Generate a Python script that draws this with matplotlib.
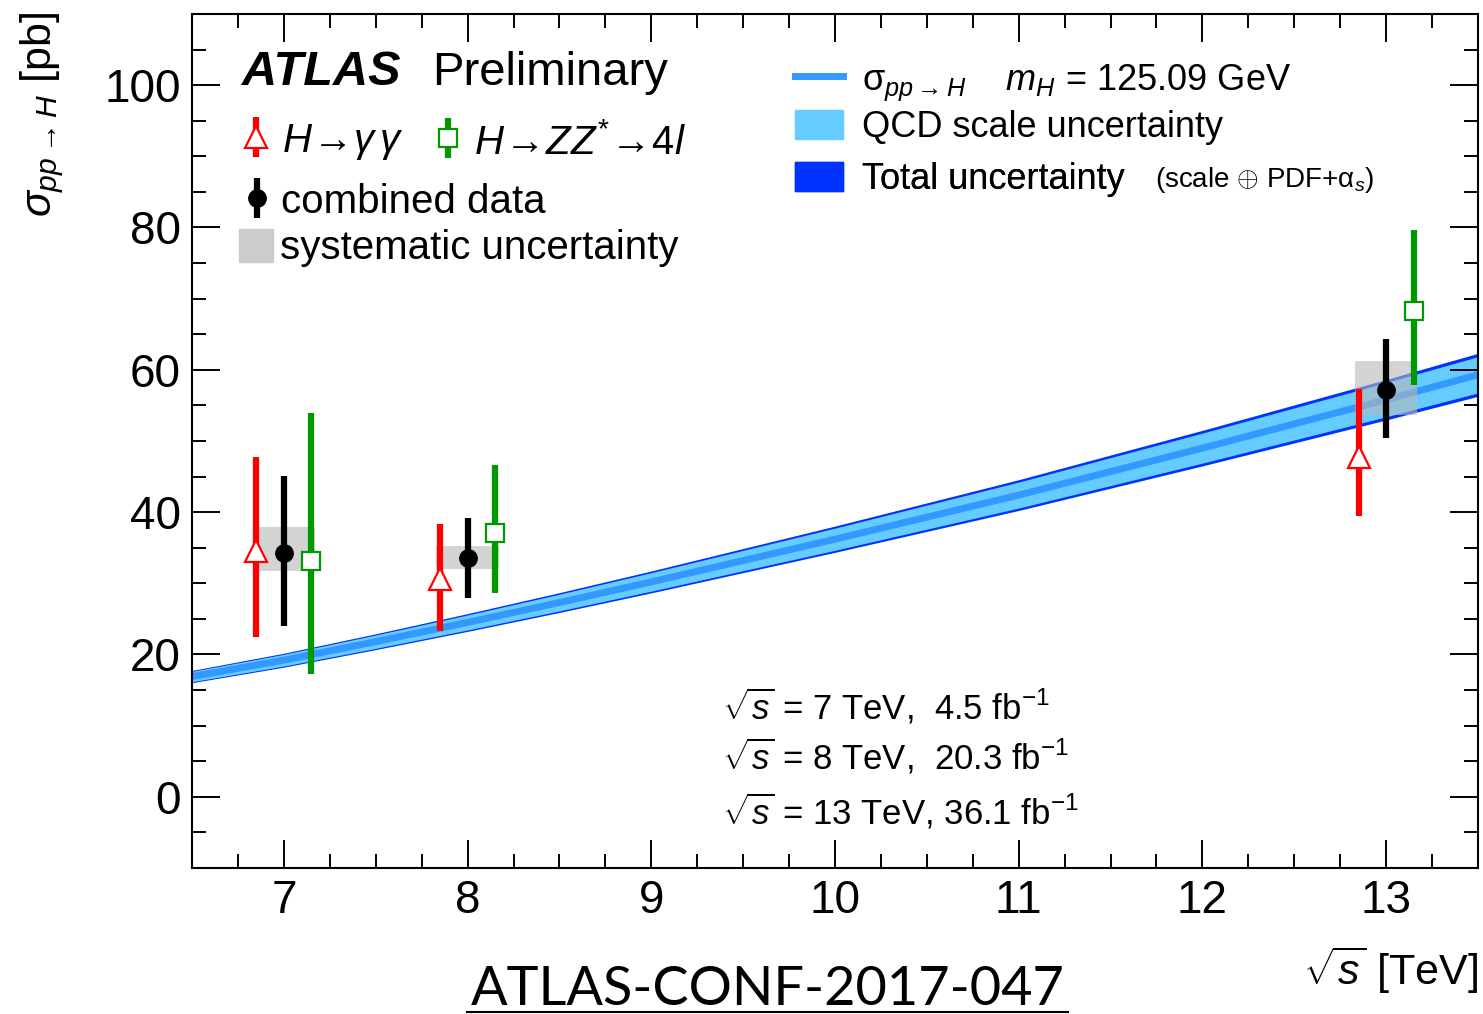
import matplotlib
matplotlib.use('Agg')
import matplotlib.pyplot as plt
from matplotlib.lines import Line2D
from matplotlib.patches import Patch
from matplotlib.ticker import MultipleLocator
import numpy as np

plt.rcParams['font.family'] = ['Liberation Sans', 'DejaVu Sans']
plt.rcParams['mathtext.fontset'] = 'custom'
plt.rcParams['mathtext.rm'] = 'Liberation Sans'
plt.rcParams['mathtext.it'] = 'Liberation Sans:italic'
plt.rcParams['mathtext.bf'] = 'Liberation Sans:bold'

# measured cross sections [pb] at sqrt(s) = 7, 8, 13 TeV
energies = [7, 8, 13]
yy_xsec = [34.5, 30.6, 47.8]
yy_lo = [12.1, 7.3, 8.3]
yy_hi = [13.2, 7.7, 9.5]
zz_xsec = [33.1, 37.1, 68.2]
zz_lo = [15.9, 8.5, 10.4]
zz_hi = [20.8, 9.5, 11.5]
comb_xsec = [34.2, 33.5, 57.2]
comb_lo = [10.2, 5.6, 6.8]
comb_hi = [10.9, 5.7, 7.2]
syst_lo = [31.8, 32.0, 53.7]
syst_hi = [37.9, 35.2, 61.2]

# theory prediction
th_sqrts = [6.5, 7.0, 7.5, 8.0, 8.5, 9.0, 9.5, 10.0, 10.5, 11.0, 11.5, 12.0, 12.5, 13.0, 13.5]
th_xsec = [16.9, 19.2, 21.8, 24.5, 27.3, 30.2, 33.2, 36.2, 39.3, 42.4, 45.7, 49.0, 52.4, 55.8, 59.3]
th_scale_rel = [0.043] * len(th_sqrts)
th_total_rel = [0.051] * len(th_sqrts)

offset = 0.15

fig = plt.figure(figsize=(14.83, 10.14), dpi=100)
ax = fig.add_axes([0.1295, 0.144, 0.8671, 0.8422])

x_th = np.array(th_sqrts)
y_th = np.array(th_xsec)
tot = y_th * np.array(th_total_rel)
sc = y_th * np.array(th_scale_rel)
ax.fill_between(x_th, y_th - tot, y_th + tot, color='#0033ff', lw=0, zorder=1)
ax.fill_between(x_th, y_th - sc, y_th + sc, color='#66ccff', lw=0, zorder=1.1)
ax.plot(x_th, y_th, color='#3399ff', lw=5, zorder=1.2)

e = np.array(energies, dtype=float)
s_lo = np.array(syst_lo)
s_hi = np.array(syst_hi)
ax.bar(e, s_hi - s_lo, bottom=s_lo, width=0.34, color='#b8b8b8', alpha=0.6, lw=0, zorder=3)

h_yy = ax.errorbar(e - offset, yy_xsec, yerr=[yy_lo, yy_hi], fmt='^', color='red', mfc='white',
                   mec='red', ms=16, mew=1.6, elinewidth=4.5, capsize=0, zorder=5)
h_comb = ax.errorbar(e, comb_xsec, yerr=[comb_lo, comb_hi], fmt='o', color='black',
                     ms=12.5, elinewidth=4.5, capsize=0, zorder=5)
h_zz = ax.errorbar(e + offset, zz_xsec, yerr=[zz_lo, zz_hi], fmt='s', color='#009900', mfc='white',
                   mec='#009900', ms=13, mew=1.6, elinewidth=4.5, capsize=0, zorder=5)

ax.set_xlim(6.5, 13.5)
ax.set_ylim(-10, 110)
ax.xaxis.set_major_locator(MultipleLocator(1))
ax.xaxis.set_minor_locator(MultipleLocator(0.25))
ax.yaxis.set_major_locator(MultipleLocator(20))
ax.yaxis.set_minor_locator(MultipleLocator(5))
ax.tick_params(which='both', direction='in', top=True, right=True, width=1.4, labelsize=33)
ax.tick_params(which='major', length=20, pad=8)
ax.tick_params(which='minor', length=10)
for sp in ax.spines.values():
    sp.set_linewidth(1.5)


def row_legend(handles, labels, x, y, fs, hl, hh, pad):
    leg = ax.legend(handles, labels, loc='center left', bbox_to_anchor=(x, y), frameon=False,
                    fontsize=fs, handlelength=hl, handleheight=hh, handletextpad=pad,
                    borderpad=0, borderaxespad=0)
    ax.add_artist(leg)
    return leg


row_legend([h_yy], [r'$H\!\rightarrow\!\gamma\,\gamma$'], 0.0365, 0.850, 29, 0.85, 0.9, 0.22)
row_legend([h_zz], [r'$H\!\rightarrow\!ZZ^{*}\!\rightarrow\!4l$'], 0.186, 0.850, 29, 0.85, 0.9, 0.22)
row_legend([h_comb], ['combined data'], 0.037, 0.780, 29, 0.85, 0.9, 0.18)
row_legend([Patch(color='#cccccc')], ['systematic uncertainty'], 0.0365, 0.726, 29, 0.85, 0.875, 0.18)

row_legend([Line2D([], [], color='#3399ff', lw=5)],
           [r'$\mathrm{\sigma}_{pp\rightarrow H}$    $m_H$ = 125.09 GeV'], 0.469, 0.920, 26, 1.33, 0.8, 0.53)
row_legend([Patch(color='#66ccff')], ['QCD scale uncertainty'], 0.469, 0.867, 26, 1.33, 0.86, 0.53)
row_legend([Patch(color='#0033ff')], ['Total uncertainty'], 0.469, 0.806, 26, 1.33, 0.86, 0.53)
ax.text(0.749, 0.797, r'(scale $\oplus$ PDF+$\mathrm{\alpha}_s$)', transform=ax.transAxes,
        fontsize=20, va='baseline', ha='left')

ax.text(0.039, 0.917, 'ATLAS', transform=ax.transAxes, fontsize=35, fontweight='bold',
        fontstyle='italic', va='baseline')
ax.text(0.1866, 0.917, 'Preliminary', transform=ax.transAxes, fontsize=34, va='baseline')

lumi_lines = [r'$\sqrt{s}$ = 7 TeV,  4.5 fb$^{\mathregular{-1}}$',
              r'$\sqrt{s}$ = 8 TeV,  20.3 fb$^{\mathregular{-1}}$',
              r'$\sqrt{s}$ = 13 TeV, 36.1 fb$^{\mathregular{-1}}$']
for txt, yy in zip(lumi_lines, [0.1733, 0.1148, 0.0515]):
    ax.text(0.412, yy, txt, transform=ax.transAxes, fontsize=25, va='baseline')

fig.text(42 / 1483, 1 - 12 / 1014, r'$\sigma_{pp\rightarrow H}$ [pb]', rotation=90,
         ha='center', va='top', fontsize=31)
fig.text(1478 / 1483, 1 - 985 / 1014, r'$\sqrt{s}$ [TeV]', ha='right', va='baseline', fontsize=31)

fig.text(768 / 1483, 0.0, 'ATLAS-CONF-2017-047', family=['Lato', 'DejaVu Sans'],
         fontsize=39, ha='center', va='bottom')
fig.add_artist(Line2D([467 / 1483, 1068 / 1483], [0.002, 0.002], color='black', lw=1.5,
                      transform=fig.transFigure))

fig.savefig('out.png', dpi=100)
